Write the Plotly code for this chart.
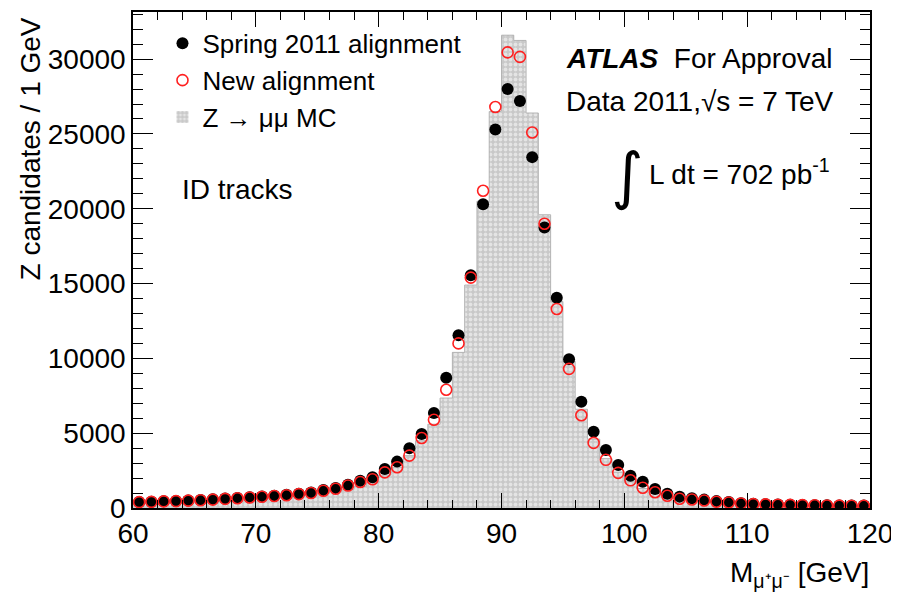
import plotly.graph_objects as go

# ---------------- data ----------------
bin_centers = [60.5 + i for i in range(60)]
bin_edges = [60 + i for i in range(61)]

spring2011 = [400, 420, 450, 470, 500, 540, 580, 630, 670, 720,
              770, 820, 880, 960, 1040, 1200, 1330, 1550, 1820, 2050,
              2600, 3100, 4000, 4950, 6350, 8700, 11550, 15550, 20300, 25300,
              28000, 27200, 23450, 18750, 14050, 9950, 7100, 5100, 3880, 2880,
              2150, 1750, 1270, 950, 760, 650, 560, 460, 400, 320,
              280, 250, 230, 220, 200, 190, 180, 170, 160, 160]

new_align = [390, 410, 440, 460, 490, 520, 560, 610, 650, 700,
             750, 800, 850, 930, 1000, 1150, 1290, 1500, 1740, 1920,
             2380, 2720, 3500, 4680, 5900, 7900, 11000, 15400, 21200, 26800,
             30450, 30150, 25100, 19000, 13300, 9300, 6200, 4350, 3220, 2350,
             1850, 1350, 1050, 820, 620, 570, 500, 420, 370, 300,
             260, 240, 220, 210, 190, 180, 170, 160, 150, 150]

mc_zmumu = [300, 320, 340, 360, 390, 420, 450, 490, 530, 570,
            620, 670, 730, 800, 880, 980, 1100, 1250, 1450, 1700,
            2200, 2700, 3500, 4500, 5600, 7350, 10400, 14900, 20500, 26500,
            31600, 31250, 26400, 19600, 13800, 9800, 6600, 4600, 3300, 2400,
            1800, 1300, 1000, 780, 600, 540, 470, 400, 350, 290,
            250, 230, 210, 200, 180, 170, 160, 150, 140, 140]

x_tickvals = [60, 70, 80, 90, 100, 110, 120]
x_ticktext = ["60", "70", "80", "90", "100", "110", "120"]
y_tickvals = [0, 5000, 10000, 15000, 20000, 25000, 30000]
y_ticktext = ["0", "5000", "10000", "15000", "20000", "25000", "30000"]

FONT = "Liberation Sans, Arial, Helvetica, sans-serif"

# page has an 8px body margin; plot area target: x 133..870, y 10..508
OFF = 8
PL, PT, PW, PH = 133, 10, 737, 498

fig = go.Figure()

# MC histogram
fig.add_trace(go.Bar(
    x=bin_centers, y=mc_zmumu, width=1.0,
    name="Z \u2192 \u03bc\u03bc MC",
    marker=dict(color="#cdcdcd",
                line=dict(width=0),
                pattern=dict(shape=".", fgcolor="white", bgcolor="#c8c8c8",
                             size=5, solidity=0.45)),
    legendrank=3,
))
# outline of histogram
fig.add_trace(go.Scatter(
    x=bin_edges, y=mc_zmumu + [mc_zmumu[-1]], mode="lines",
    line=dict(color="#b4b4b4", width=1, shape="hv"),
    showlegend=False, hoverinfo="skip",
))
# Spring 2011 alignment
fig.add_trace(go.Scatter(
    x=bin_centers, y=spring2011, mode="markers",
    name="Spring 2011 alignment",
    marker=dict(symbol="circle", size=12, color="black"),
    legendrank=1,
))
# New alignment
fig.add_trace(go.Scatter(
    x=bin_centers, y=new_align, mode="markers",
    name="New alignment",
    marker=dict(symbol="circle-open", size=11, color="#ff2020",
                line=dict(width=1.6, color="#ff2020")),
    legendrank=2,
))

axis_common = dict(
    showline=True, linecolor="black", linewidth=1.5, mirror="allticks",
    ticks="inside", tickcolor="black", showgrid=False, zeroline=False,
    tickfont=dict(family=FONT, size=28, color="black"),
)

fig.update_xaxes(
    range=[60, 120], tickvals=x_tickvals, ticktext=x_ticktext,
    ticklen=15, tickwidth=1.2,
    minor=dict(dtick=2, tick0=60, ticks="inside", ticklen=8, tickcolor="black", tickwidth=1),
    **axis_common,
)
fig.update_yaxes(
    range=[0, 33150], tickvals=y_tickvals, ticktext=y_ticktext,
    ticklen=20, tickwidth=1.2,
    minor=dict(dtick=1000, tick0=0, ticks="inside", ticklen=10, tickcolor="black", tickwidth=1),
    **axis_common,
)

fig.update_layout(
    width=899 - OFF, height=596 - OFF,
    margin=dict(l=PL - OFF, r=899 - PL - PW, t=PT - OFF, b=596 - PT - PH),
    paper_bgcolor="white", plot_bgcolor="white",
    bargap=0, barmode="overlay",
    font=dict(family=FONT, size=26, color="black"),
    showlegend=True,
    legend=dict(x=0.04, y=0.984, xanchor="left", yanchor="top",
                bgcolor="rgba(0,0,0,0)", font=dict(family=FONT, size=26, color="black"),
                itemwidth=30, traceorder="normal"),
)


def px(x):
    return (x - PL) / PW


def py(y):
    return 1 - (y - PT) / PH


ann = [
    dict(text="ID tracks", x=180, y=188, size=28),
    dict(text="<b><i>ATLAS</i></b>  For Approval", x=564, y=57, size=28),
    dict(text="Data 2011,\u221as = 7 TeV", x=564, y=100, size=28),
    dict(text="L dt = 702 pb<sup>-1</sup>", x=647, y=171, size=28),
]
for a in ann:
    fig.add_annotation(
        text=a["text"], xref="paper", yref="paper",
        x=px(a["x"]), y=py(a["y"]),
        xanchor="left", yanchor="middle", showarrow=False,
        font=dict(family=FONT, size=a["size"], color="black"),
    )
# integral sign
fig.add_annotation(
    text="\u222b", xref="paper", yref="paper",
    x=px(627), y=py(174),
    xanchor="center", yanchor="middle", showarrow=False,
    font=dict(family="DejaVu Sans, " + FONT, size=62, color="black"),
)
# axis titles
fig.add_annotation(
    text="Z candidates / 1 GeV", xref="paper", yref="paper",
    x=px(30), y=py(14), textangle=-90,
    xanchor="center", yanchor="top", showarrow=False,
    font=dict(family=FONT, size=28, color="black"),
)
fig.add_annotation(
    text="M<sub>\u03bc\u207a\u03bc\u207b</sub> [GeV]", xref="paper", yref="paper",
    x=px(871), y=py(575),
    xanchor="right", yanchor="middle", showarrow=False,
    font=dict(family=FONT, size=28, color="black"),
)

fig.write_html("out.html")
